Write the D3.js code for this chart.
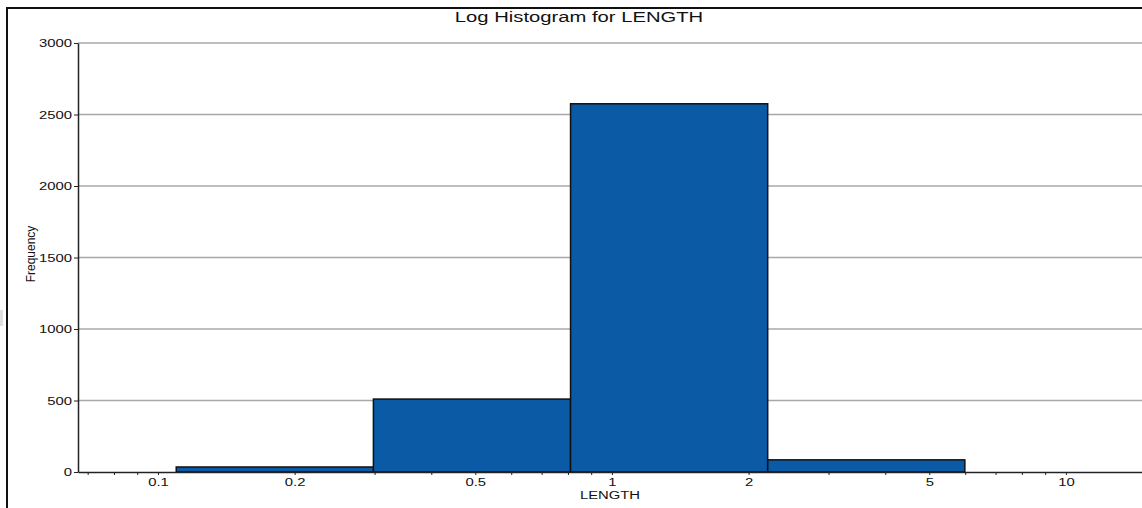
<!DOCTYPE html>
<html>
<head>
<meta charset="utf-8">
<script src="https://cdn.jsdelivr.net/npm/d3@7.9.0/dist/d3.min.js"></script>
<style>
  body { margin: 0; background: #fff; }
  svg { display: block; font-family: "Liberation Sans", Arial, sans-serif; }
</style>
</head>
<body>
<svg id="chart"></svg>
<script>
// Log histogram data (bin edges in LENGTH units, counts per bin)
const binEdges = [0.1097, 0.2982, 0.8106, 2.2034, 5.9895];
const counts = [35, 510, 2575, 85];
const yTicks = [0, 500, 1000, 1500, 2000, 2500, 3000];
const xTickLabels = [0.1, 0.2, 0.5, 1, 2, 5, 10];

const width = 1142;
const height = 508;
const stretch = 1.35; // text in the picture is widened horizontally

const bins = counts.map((c, i) => ({ x0: binEdges[i], x1: binEdges[i + 1], count: c }));

const svg = d3.select('#chart')
  .attr('width', width)
  .attr('height', height)
  .attr('viewBox', [0, 0, width, height]);

const plot = { left: 78, right: 1142, top: 43, bottom: 472 };

const x = d3.scaleLog()
  .domain([0.06665, 14.71])
  .range([plot.left, plot.right]);

const y = d3.scaleLinear()
  .domain([0, 3000])
  .range([plot.bottom, plot.top]);

// outer frame (runs off the right/bottom edge)
svg.append('rect')
  .attr('x', 7).attr('y', 8)
  .attr('width', 1170).attr('height', 520)
  .attr('fill', 'none')
  .attr('stroke', '#111')
  .attr('stroke-width', 2);

// small grey artefact at the left edge
svg.append('rect')
  .attr('x', 0).attr('y', 310)
  .attr('width', 3).attr('height', 16)
  .attr('fill', '#e0e0e0');

// title
svg.append('text')
  .attr('transform', `translate(579, 22) scale(${stretch},1)`)
  .attr('text-anchor', 'middle')
  .attr('font-size', 15)
  .attr('fill', '#111')
  .text('Log Histogram for LENGTH');

// gridlines
svg.append('g')
  .selectAll('line')
  .data(yTicks.filter(d => d > 0))
  .join('line')
  .attr('x1', plot.left).attr('x2', plot.right)
  .attr('y1', d => y(d)).attr('y2', d => y(d))
  .attr('stroke', '#a8a8a8')
  .attr('stroke-width', 1.3);

// bars
svg.append('g')
  .selectAll('rect')
  .data(bins)
  .join('rect')
  .attr('x', d => x(d.x0))
  .attr('y', d => y(d.count))
  .attr('width', d => x(d.x1) - x(d.x0))
  .attr('height', d => y(0) - y(d.count))
  .attr('fill', '#0a5aa5')
  .attr('stroke', '#111')
  .attr('stroke-width', 1.5);

// y axis
const yAxis = svg.append('g')
  .attr('transform', `translate(${plot.left},0)`)
  .call(d3.axisLeft(y).tickValues(yTicks).tickFormat(d3.format('d'))
    .tickSize(4).tickPadding(2).tickSizeOuter(0));
yAxis.select('.domain').attr('stroke', '#222').attr('stroke-width', 1.5);
yAxis.selectAll('.tick line').attr('stroke', '#222');
yAxis.selectAll('.tick text')
  .attr('font-size', 11)
  .attr('font-family', '"Liberation Sans", Arial, sans-serif')
  .attr('fill', '#111')
  .attr('x', -6 / stretch)
  .attr('transform', `scale(${stretch},1)`);

// x axis: minor ticks at every log tick, labels on chosen ones
const label = d => {
  const v = +d.toPrecision(6);
  return xTickLabels.includes(v) ? String(v) : '';
};
const xAxis = svg.append('g')
  .attr('transform', `translate(0,${plot.bottom})`)
  .call(d3.axisBottom(x)
    .tickValues(x.ticks())
    .tickFormat(label)
    .tickSize(3)
    .tickPadding(3)
    .tickSizeOuter(0));
xAxis.select('.domain').attr('stroke', '#222').attr('stroke-width', 1.5);
xAxis.selectAll('.tick line').attr('stroke', '#222');
xAxis.selectAll('.tick text')
  .attr('font-size', 11)
  .attr('font-family', '"Liberation Sans", Arial, sans-serif')
  .attr('fill', '#111')
  .attr('transform', `scale(${stretch},1)`);

// axis titles
svg.append('text')
  .attr('transform', `translate(610, 499) scale(${stretch},1)`)
  .attr('text-anchor', 'middle')
  .attr('font-size', 11)
  .attr('fill', '#111')
  .text('LENGTH');

svg.append('text')
  .attr('transform', `translate(35, 254) rotate(-90)`)
  .attr('text-anchor', 'middle')
  .attr('font-size', 12)
  .attr('fill', '#111')
  .text('Frequency');
</script>
</body>
</html>
